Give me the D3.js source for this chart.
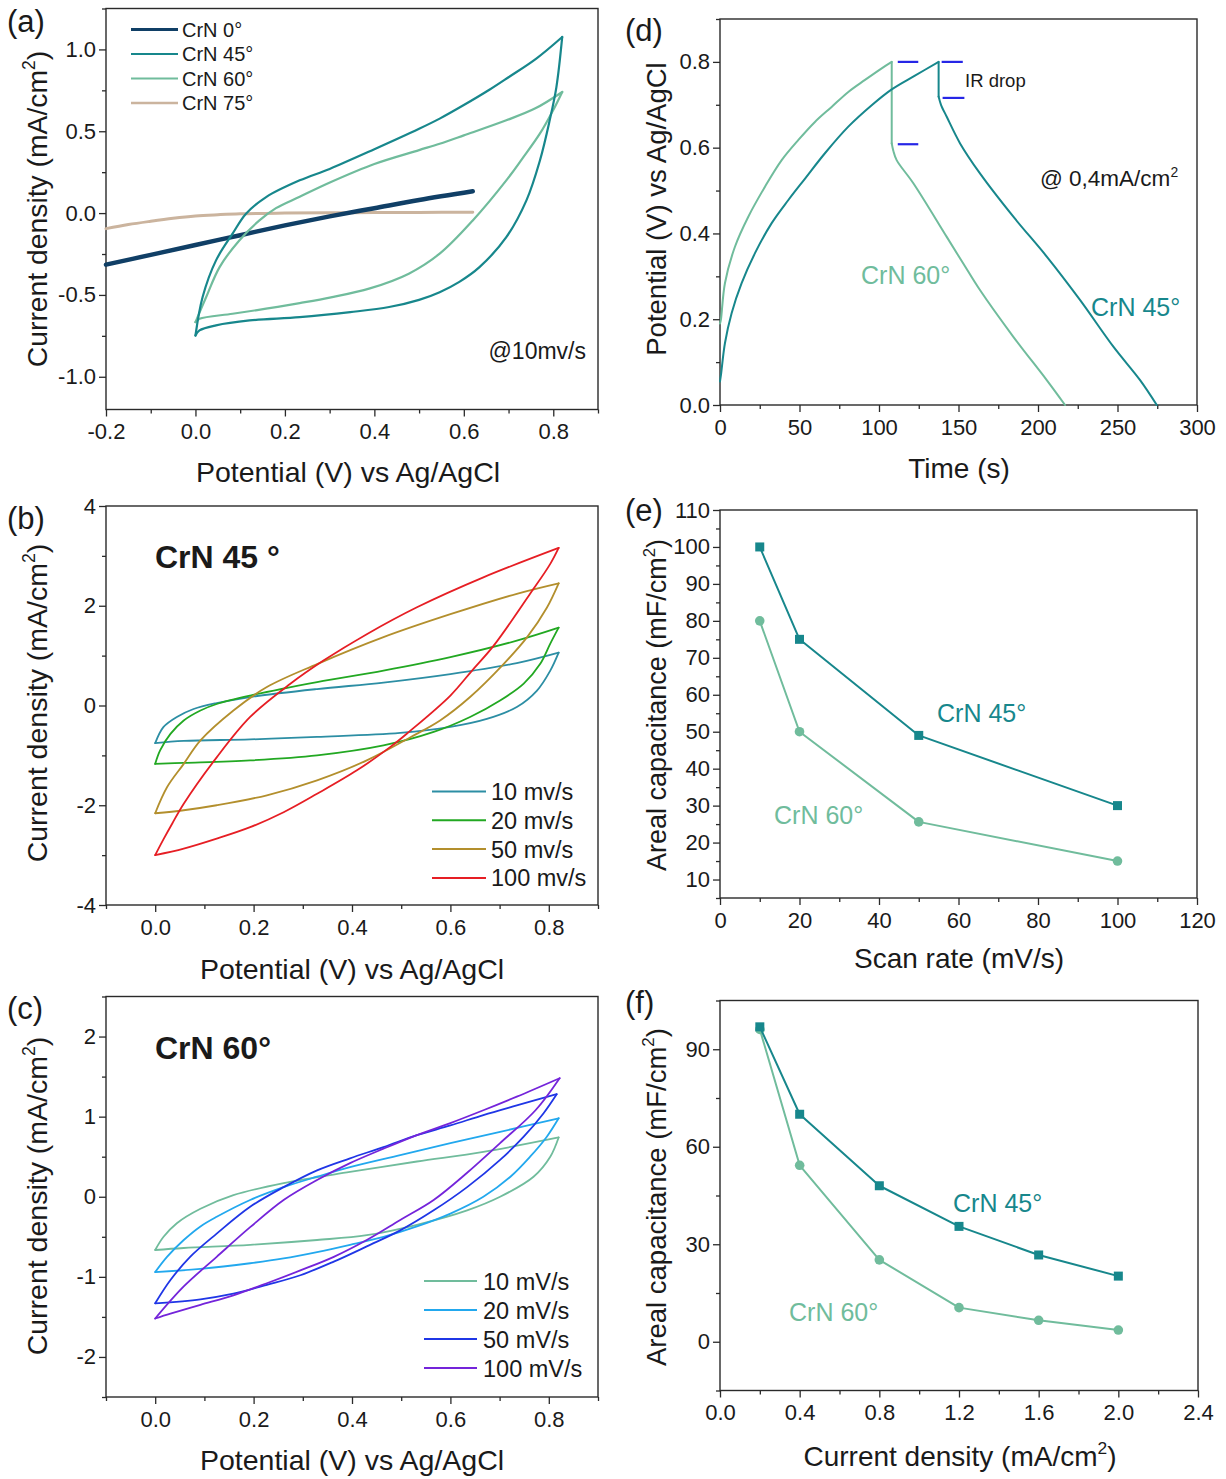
<!DOCTYPE html>
<html><head><meta charset="utf-8">
<script src="https://cdn.jsdelivr.net/npm/d3@7"></script>
<style>body{margin:0;background:#fff}svg{display:block}</style>
</head><body>
<svg id="fig" width="1226" height="1479"></svg>
<script>
// ---------- data ----------
// (a) cyclic voltammograms at 10 mV/s: [potential V, current density mA/cm2]
const cv0 = [[-0.2,-0.315],[-0.1,-0.255],[0,-0.195],[0.1,-0.135],[0.2,-0.075],[0.3,-0.02],[0.4,0.03],[0.5,0.08],[0.62,0.133]];
const cv75 = [[-0.2,-0.095],[-0.15,-0.07],[-0.1,-0.05],[-0.05,-0.032],[0,-0.018],[0.05,-0.01],[0.1,-0.004],[0.2,0],[0.3,0.002],[0.4,0.003],[0.5,0.004],[0.62,0.005]];
const cv45Fwd = [[0,-0.748],[0.016,-0.513],[0.046,-0.289],[0.083,-0.126],[0.113,-0.004],[0.158,0.098],[0.233,0.2],[0.3,0.27],[0.4,0.39],[0.5,0.515],[0.546,0.577],[0.6,0.66],[0.658,0.755],[0.7,0.83],[0.762,0.944],[0.82,1.076]];
const cv45Rev = [[0.82,1.076],[0.807,0.77],[0.792,0.567],[0.77,0.32],[0.74,0.078],[0.695,-0.147],[0.635,-0.33],[0.59,-0.42],[0.546,-0.483],[0.5,-0.53],[0.433,-0.574],[0.346,-0.605],[0.233,-0.636],[0.121,-0.656],[0.046,-0.686],[0.009,-0.717],[0,-0.748]];
const cv60Fwd = [[0,-0.666],[0.024,-0.513],[0.054,-0.33],[0.098,-0.167],[0.143,-0.045],[0.18,0.03],[0.233,0.1],[0.303,0.19],[0.4,0.3],[0.5,0.385],[0.546,0.424],[0.6,0.475],[0.695,0.567],[0.76,0.64],[0.82,0.74]];
const cv60Rev = [[0.82,0.74],[0.8,0.63],[0.77,0.485],[0.73,0.33],[0.695,0.2],[0.62,-0.045],[0.546,-0.248],[0.477,-0.37],[0.39,-0.46],[0.303,-0.515],[0.233,-0.55],[0.158,-0.584],[0.083,-0.615],[0.009,-0.646],[0,-0.666]];

// (b) CrN 45° at increasing scan rates
const b10Fwd = [[0,-0.755],[0.017,-0.43],[0.044,-0.23],[0.078,-0.07],[0.125,0.05],[0.193,0.17],[0.329,0.33],[0.464,0.46],[0.6,0.63],[0.735,0.85],[0.82,1.06]];
const b10Rev = [[0.82,1.06],[0.803,0.7],[0.776,0.3],[0.735,-0.03],[0.674,-0.27],[0.6,-0.43],[0.498,-0.55],[0.329,-0.63],[0.193,-0.68],[0.058,-0.71],[0,-0.755]];
const b20Fwd = [[0,-1.17],[0.01,-0.9],[0.031,-0.57],[0.058,-0.3],[0.092,-0.1],[0.125,0.03],[0.193,0.2],[0.329,0.47],[0.464,0.7],[0.6,0.97],[0.735,1.3],[0.82,1.56]];
const b20Rev = [[0.82,1.56],[0.803,1.24],[0.783,0.84],[0.749,0.44],[0.701,0.1],[0.64,-0.23],[0.566,-0.53],[0.464,-0.8],[0.329,-1.0],[0.193,-1.1],[0.058,-1.15],[0,-1.17]];
const b50Fwd = [[0,-2.16],[0.024,-1.64],[0.058,-1.17],[0.092,-0.7],[0.159,-0.1],[0.227,0.37],[0.329,0.83],[0.464,1.37],[0.6,1.83],[0.735,2.24],[0.82,2.45]];
const b50Rev = [[0.82,2.45],[0.796,1.96],[0.756,1.37],[0.708,0.83],[0.64,0.17],[0.579,-0.3],[0.518,-0.64],[0.43,-1.1],[0.329,-1.5],[0.227,-1.8],[0.125,-2.0],[0.058,-2.1],[0,-2.16]];
const b100Fwd = [[0,-3.0],[0.017,-2.68],[0.035,-2.36],[0.058,-1.97],[0.125,-1.04],[0.193,-0.23],[0.274,0.43],[0.342,0.9],[0.43,1.43],[0.532,1.97],[0.667,2.57],[0.82,3.16]];
const b100Rev = [[0.82,3.16],[0.803,2.84],[0.762,2.24],[0.688,1.2],[0.644,0.7],[0.6,0.2],[0.515,-0.535],[0.478,-0.83],[0.41,-1.3],[0.329,-1.77],[0.261,-2.14],[0.193,-2.44],[0.125,-2.67],[0.058,-2.87],[0,-3.0]];

// (c) CrN 60° at increasing scan rates
const c10Fwd = [[0,-0.665],[0.017,-0.5],[0.044,-0.33],[0.092,-0.15],[0.159,0.02],[0.261,0.17],[0.396,0.31],[0.532,0.44],[0.667,0.56],[0.82,0.74]];
const c10Rev = [[0.82,0.74],[0.803,0.5],[0.769,0.25],[0.701,0.0],[0.634,-0.17],[0.532,-0.35],[0.43,-0.48],[0.329,-0.54],[0.193,-0.6],[0.058,-0.64],[0,-0.665]];
const c20Fwd = [[0,-0.94],[0.024,-0.75],[0.058,-0.54],[0.092,-0.37],[0.125,-0.25],[0.193,-0.04],[0.261,0.12],[0.329,0.25],[0.396,0.37],[0.498,0.52],[0.6,0.67],[0.701,0.81],[0.82,0.98]];
const c20Rev = [[0.82,0.98],[0.796,0.75],[0.762,0.5],[0.722,0.25],[0.667,0.0],[0.6,-0.21],[0.532,-0.37],[0.464,-0.5],[0.396,-0.6],[0.329,-0.69],[0.261,-0.77],[0.193,-0.83],[0.092,-0.9],[0,-0.94]];
const c50Fwd = [[0,-1.33],[0.031,-1.04],[0.071,-0.75],[0.125,-0.46],[0.193,-0.125],[0.261,0.12],[0.329,0.33],[0.396,0.48],[0.464,0.62],[0.532,0.77],[0.6,0.89],[0.667,1.02],[0.735,1.14],[0.816,1.28]];
const c50Rev = [[0.816,1.28],[0.789,1.04],[0.749,0.75],[0.701,0.46],[0.634,0.12],[0.566,-0.17],[0.498,-0.42],[0.43,-0.62],[0.363,-0.81],[0.295,-0.98],[0.227,-1.1],[0.159,-1.21],[0.092,-1.28],[0,-1.33]];
const c100Fwd = [[0,-1.52],[0.058,-1.12],[0.125,-0.75],[0.193,-0.38],[0.261,-0.04],[0.329,0.21],[0.396,0.42],[0.464,0.6],[0.532,0.77],[0.6,0.92],[0.667,1.08],[0.735,1.25],[0.822,1.48]];
const c100Rev = [[0.822,1.48],[0.773,1.08],[0.701,0.67],[0.634,0.3],[0.566,-0.04],[0.498,-0.29],[0.43,-0.54],[0.363,-0.75],[0.295,-0.92],[0.227,-1.08],[0.159,-1.23],[0.092,-1.35],[0.031,-1.46],[0,-1.52]];

// (d) galvanostatic charge/discharge at 0.4 mA/cm2: [time s, potential V]
const gcd60Charge = [[0,0.19],[0.6,0.2],[3.1,0.284],[9.4,0.369],[17.8,0.439],[28.3,0.509],[38.8,0.571],[49.3,0.618],[59.7,0.66],[70.2,0.695],[80.7,0.73],[91.2,0.758],[101.7,0.785],[108,0.8]];
const gcd60Discharge = [[108,0.61],[109,0.593],[111.1,0.571],[121.6,0.517],[142.6,0.392],[153,0.33],[163.5,0.268],[184.5,0.159],[205.5,0.058],[217,0]];
const gcd45Charge = [[0,0.055],[0.6,0.07],[3.1,0.144],[7.3,0.214],[13.6,0.284],[22,0.354],[32.5,0.424],[43,0.478],[53.5,0.528],[66,0.587],[80.7,0.649],[95.4,0.699],[108,0.736],[122.6,0.768],[137.5,0.8]];
const gcd45Discharge = [[137.5,0.719],[139,0.7],[142.6,0.672],[151,0.61],[163.5,0.54],[184.5,0.439],[205.5,0.346],[226.4,0.245],[247.4,0.136],[264.2,0.058],[274.7,0]];
// IR drop level marks: [t start, t end, V]
const irMarks = [[111.8,124.7,0.8],[139.4,152.7,0.8],[111.8,124.7,0.608],[140,153.7,0.716]];

// (e) areal capacitance vs scan rate
const scanRates = [10,20,50,100];
const cap45Scan = [100,75,49,30];
const cap60Scan = [80,50,25.6,15];

// (f) areal capacitance vs current density
const currents = [0.2,0.4,0.8,1.2,1.6,2.0];
const cap45Cur = [96.9,70,48,35.5,26.7,20.2];
const cap60Cur = [96.1,54.3,25.2,10.5,6.6,3.6];

// tick values
const aXTicks = [-0.2,0,0.2,0.4,0.6,0.8], aYTicks = [-1,-0.5,0,0.5,1];
const bcXTicks = [0,0.2,0.4,0.6,0.8];
const bYTicks = [-4,-2,0,2,4], cYTicks = [-2,-1,0,1,2];
const dXTicks = [0,50,100,150,200,250,300], dYTicks = [0,0.2,0.4,0.6,0.8];
const eXTicks = [0,20,40,60,80,100,120], eYTicks = [10,20,30,40,50,60,70,80,90,100,110];
const fXTicks = [0,0.4,0.8,1.2,1.6,2.0,2.4], fYTicks = [0,30,60,90];

// legend entries
const aLegend = ["CrN 0°","CrN 45°","CrN 60°","CrN 75°"];
const bLegend = ["10 mv/s","20 mv/s","50 mv/s","100 mv/s"];
const cLegend = ["10 mV/s","20 mV/s","50 mV/s","100 mV/s"];

// ---------- styling ----------
const FONT = "'Liberation Sans', Arial, Helvetica, sans-serif";
const col = {
  c0:"#103f66", c45:"#17878c", c60:"#70bc9c", c75:"#cbb49e",
  b10:"#2c8ea4", b20:"#22a822", b50:"#b38f2d", b100:"#e61e24",
  c20:"#22a8ee", c50:"#1f36e6", c100:"#7424da", ir:"#2626e6"
};

const svg = d3.select("#fig");
svg.append("rect").attr("width",1226).attr("height",1479).attr("fill","#fff");

function minors(ticks, domain){
  const step = ticks[1]-ticks[0], out = [];
  const lo = Math.min(domain[0],domain[1]), hi = Math.max(domain[0],domain[1]);
  for (let v = ticks[0]-step/2; v >= lo-1e-9; v -= step) out.push(v);
  for (let i=0;i<ticks.length;i++){ const v = ticks[i]+step/2; if (v<=hi+1e-9) out.push(v); }
  return out;
}

function styleAxis(sel){
  sel.select(".domain").remove();
  sel.selectAll("line").attr("stroke","#2a2a2a").attr("stroke-width",1.3);
  sel.selectAll("text").attr("fill","#1a1a1a");
  sel.attr("font-family",FONT).attr("font-size",22);
}

function makePanel(o){
  const g = svg.append("g");
  const x = d3.scaleLinear().domain(o.xd).range([o.l,o.r]);
  const y = d3.scaleLinear().domain(o.yd).range([o.b,o.t]);
  g.append("g").attr("transform",`translate(0,${o.b})`)
    .call(d3.axisBottom(x).tickValues(minors(o.xt,o.xd)).tickSize(4).tickFormat("")).call(styleAxis);
  g.append("g").attr("transform",`translate(${o.l},0)`)
    .call(d3.axisLeft(y).tickValues(minors(o.yt,o.yd)).tickSize(4).tickFormat("")).call(styleAxis);
  g.append("g").attr("transform",`translate(0,${o.b})`)
    .call(d3.axisBottom(x).tickValues(o.xt).tickSize(7).tickPadding(7).tickFormat(o.xf)).call(styleAxis);
  g.append("g").attr("transform",`translate(${o.l},0)`)
    .call(d3.axisLeft(y).tickValues(o.yt).tickSize(7).tickPadding(3).tickFormat(o.yf)).call(styleAxis);
  g.append("rect").attr("x",o.l).attr("y",o.t).attr("width",o.r-o.l).attr("height",o.b-o.t)
    .attr("fill","none").attr("stroke","#2a2a2a").attr("stroke-width",1.4);
  return {g,x,y};
}

// text with optional superscript segments: [[text, isSup], ...]
function label(parent, p, segs){
  const t = parent.append("text").attr("font-family",FONT).attr("font-size",p.size)
    .attr("fill",p.fill||"#1a1a1a").attr("font-weight",p.weight||"normal")
    .attr("text-anchor",p.anchor||"start")
    .attr("transform",`translate(${p.x},${p.y})${p.rot?" rotate("+p.rot+")":""}`);
  let shifted = false;
  segs.forEach(s=>{
    const ts = t.append("tspan").text(s[0]);
    if (s[1]) { ts.attr("dy",-0.42*p.size).attr("font-size",0.62*p.size); shifted = true; }
    else if (shifted) { ts.attr("dy",0.42*p.size); shifted = false; }
  });
  return t;
}

const f1 = d=>d.toFixed(1), f0 = d=>String(d);
const curve = d3.curveCatmullRom.alpha(0.5);
function drawPath(P, data, color, w, cv){
  const ln = d3.line().x(d=>P.x(d[0])).y(d=>P.y(d[1])).curve(cv||curve);
  P.g.append("path").attr("d",ln(data)).attr("fill","none").attr("stroke",color)
    .attr("stroke-width",w).attr("stroke-linejoin","round").attr("stroke-linecap","round");
}

const titleX = 28.5;

// ---------- (a) ----------
const A = makePanel({l:106,r:598,t:8.5,b:409.5,xd:[-0.2,0.9],yd:[-1.2,1.25],xt:aXTicks,yt:aYTicks,xf:f1,yf:f1});
drawPath(A, cv75, col.c75, 3);
drawPath(A, cv0, col.c0, 4.5);
drawPath(A, cv60Fwd, col.c60, 2.2); drawPath(A, cv60Rev, col.c60, 2.2);
drawPath(A, cv45Fwd, col.c45, 2.2); drawPath(A, cv45Rev, col.c45, 2.2);
const aCols = [col.c0,col.c45,col.c60,col.c75], aW=[3,2.2,2.2,2.5];
aLegend.forEach((s,i)=>{
  const yy = 29.5 + i*24.5;
  A.g.append("line").attr("x1",131).attr("x2",178).attr("y1",yy).attr("y2",yy).attr("stroke",aCols[i]).attr("stroke-width",aW[i]);
  label(A.g,{x:182,y:yy+7,size:20},[[s]]);
});
label(A.g,{x:586,y:359,size:23,anchor:"end"},[["@10mv/s"]]);
label(svg,{x:47,y:209,size:28.3,anchor:"middle",rot:-90},[["Current density (mA/cm"],["2",1],[")"]]);
label(svg,{x:348,y:482,size:titleX,anchor:"middle"},[["Potential (V) vs Ag/AgCl"]]);
label(svg,{x:7,y:32,size:31},[["(a)"]]);

// ---------- (b) ----------
const B = makePanel({l:106,r:598,t:506,b:905,xd:[-0.1,0.9],yd:[-4,4],xt:bcXTicks,yt:bYTicks,xf:f1,yf:f0});
const bSeries = [[b10Fwd,b10Rev,col.b10],[b20Fwd,b20Rev,col.b20],[b50Fwd,b50Rev,col.b50],[b100Fwd,b100Rev,col.b100]];
bSeries.forEach(s=>{ drawPath(B,s[0],s[2],1.8); drawPath(B,s[1],s[2],1.8); });
bLegend.forEach((s,i)=>{
  const yy = 791.5 + i*28.8;
  B.g.append("line").attr("x1",432).attr("x2",486).attr("y1",yy).attr("y2",yy).attr("stroke",bSeries[i][2]).attr("stroke-width",2);
  label(B.g,{x:491,y:yy+8.5,size:23.5},[[s]]);
});
label(B.g,{x:155,y:568,size:32,weight:"bold"},[["CrN 45 °"]]);
label(svg,{x:47,y:703,size:28.5,anchor:"middle",rot:-90},[["Current density (mA/cm"],["2",1],[")"]]);
label(svg,{x:352,y:979,size:titleX,anchor:"middle"},[["Potential (V) vs Ag/AgCl"]]);
label(svg,{x:7,y:529,size:31},[["(b)"]]);

// ---------- (c) ----------
const C = makePanel({l:106,r:598,t:996.5,b:1397,xd:[-0.1,0.9],yd:[-2.5,2.5],xt:bcXTicks,yt:cYTicks,xf:f1,yf:f0});
const cSeries = [[c10Fwd,c10Rev,col.c60],[c20Fwd,c20Rev,col.c20],[c50Fwd,c50Rev,col.c50],[c100Fwd,c100Rev,col.c100]];
cSeries.forEach(s=>{ drawPath(C,s[0],s[2],1.8); drawPath(C,s[1],s[2],1.8); });
cLegend.forEach((s,i)=>{
  const yy = 1281 + i*29;
  C.g.append("line").attr("x1",424).attr("x2",477).attr("y1",yy).attr("y2",yy).attr("stroke",cSeries[i][2]).attr("stroke-width",2);
  label(C.g,{x:483,y:yy+8.5,size:23.5},[[s]]);
});
label(C.g,{x:155,y:1059,size:32,weight:"bold"},[["CrN 60°"]]);
label(svg,{x:47,y:1196,size:28.5,anchor:"middle",rot:-90},[["Current density (mA/cm"],["2",1],[")"]]);
label(svg,{x:352,y:1470,size:titleX,anchor:"middle"},[["Potential (V) vs Ag/AgCl"]]);
label(svg,{x:7,y:1019,size:31},[["(c)"]]);

// ---------- (d) ----------
const D = makePanel({l:720,r:1197,t:19,b:405,xd:[0,300],yd:[0,0.9],xt:dXTicks,yt:dYTicks,xf:f0,yf:f1});
[[gcd60Charge,gcd60Discharge,col.c60],[gcd45Charge,gcd45Discharge,col.c45]].forEach(s=>{
  drawPath(D,s[0],s[2],2);
  drawPath(D,[s[0][s[0].length-1],s[1][0]],s[2],2,d3.curveLinear);
  drawPath(D,s[1],s[2],2);
});
irMarks.forEach(m=>{
  D.g.append("line").attr("x1",D.x(m[0])).attr("x2",D.x(m[1])).attr("y1",D.y(m[2])).attr("y2",D.y(m[2]))
    .attr("stroke",col.ir).attr("stroke-width",2.2);
});
label(D.g,{x:965,y:87,size:18.5},[["IR drop"]]);
label(D.g,{x:1040,y:186,size:22.5},[["@ 0,4mA/cm"],["2",1]]);
label(D.g,{x:861,y:284,size:25,fill:col.c60},[["CrN 60°"]]);
label(D.g,{x:1091,y:316,size:25,fill:col.c45},[["CrN 45°"]]);
label(svg,{x:666,y:209,size:27.5,anchor:"middle",rot:-90},[["Potential (V) vs Ag/AgCl"]]);
label(svg,{x:959,y:478,size:28,anchor:"middle"},[["Time (s)"]]);
label(svg,{x:625,y:41,size:31},[["(d)"]]);

// ---------- (e) ----------
const E = makePanel({l:720,r:1197,t:510,b:898,xd:[0,120],yd:[5,110],xt:eXTicks,yt:eYTicks,xf:f0,yf:f0});
function series(P, xs, ys, color, shape){
  const pts = xs.map((v,i)=>[v,ys[i]]);
  drawPath(P, pts, color, 2, d3.curveLinear);
  if (shape==="square")
    P.g.selectAll(null).data(pts).enter().append("rect")
      .attr("x",d=>P.x(d[0])-4.5).attr("y",d=>P.y(d[1])-4.5).attr("width",9).attr("height",9).attr("fill",color);
  else
    P.g.selectAll(null).data(pts).enter().append("circle")
      .attr("cx",d=>P.x(d[0])).attr("cy",d=>P.y(d[1])).attr("r",4.8).attr("fill",color);
}
series(E, scanRates, cap60Scan, col.c60, "circle");
series(E, scanRates, cap45Scan, col.c45, "square");
label(E.g,{x:937,y:722,size:25,fill:col.c45},[["CrN 45°"]]);
label(E.g,{x:774,y:824,size:25,fill:col.c60},[["CrN 60°"]]);
label(svg,{x:666,y:705,size:27,anchor:"middle",rot:-90},[["Areal capacitance (mF/cm"],["2",1],[")"]]);
label(svg,{x:959,y:968,size:28,anchor:"middle"},[["Scan rate (mV/s)"]]);
label(svg,{x:625,y:521,size:31},[["(e)"]]);

// ---------- (f) ----------
const F = makePanel({l:720,r:1198,t:1000.5,b:1390.5,xd:[0,2.4],yd:[-15,105],xt:fXTicks,yt:fYTicks,xf:f1,yf:f0});
series(F, currents, cap60Cur, col.c60, "circle");
series(F, currents, cap45Cur, col.c45, "square");
label(F.g,{x:953,y:1212,size:25,fill:col.c45},[["CrN 45°"]]);
label(F.g,{x:789,y:1321,size:25,fill:col.c60},[["CrN 60°"]]);
label(svg,{x:666,y:1197,size:27.5,anchor:"middle",rot:-90},[["Areal capacitance (mF/cm"],["2",1],[")"]]);
label(svg,{x:960,y:1466,size:28,anchor:"middle"},[["Current density (mA/cm"],["2",1],[")"]]);
label(svg,{x:625,y:1013,size:31},[["(f)"]]);
</script>
</body></html>
